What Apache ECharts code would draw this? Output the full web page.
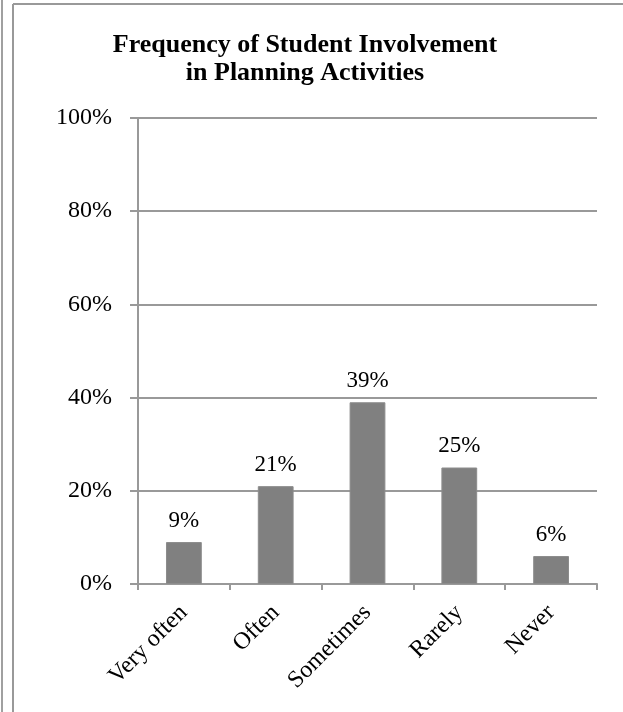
<!DOCTYPE html>
<html>
<head>
<meta charset="utf-8">
<script src="https://cdn.jsdelivr.net/npm/echarts@6/dist/echarts.min.js"></script>
<style>
  html, body { margin: 0; padding: 0; background: #fff; }
  #chart { width: 623px; height: 712px; }
</style>
</head>
<body>
<div id="chart"></div>
<script>
// Survey responses: share of students per frequency level
const categories = ['Very often', 'Often', 'Sometimes', 'Rarely', 'Never'];
const shares = [9, 21, 39, 25, 6];
const yTicks = { min: 0, max: 100, step: 20 };

const serif = '"Liberation Serif", "Times New Roman", serif';
const chart = echarts.init(document.getElementById('chart'), null, { renderer: 'canvas' });

chart.setOption({
  backgroundColor: '#fff',
  animation: false,
  title: {
    text: 'Frequency of Student Involvement\nin Planning Activities',
    left: 300,
    textAlign: 'center',
    top: 26,
    textStyle: {
      fontFamily: serif,
      fontSize: 26,
      fontWeight: 'bold',
      color: '#000',
      lineHeight: 28
    }
  },
  graphic: [
    // frame around the chart area
    { type: 'line', shape: { x1: 2, y1: 0, x2: 2, y2: 712 }, style: { stroke: '#a0a0a0', lineWidth: 2 } },
    { type: 'line', shape: { x1: 13, y1: 4, x2: 623, y2: 4 }, style: { stroke: '#999', lineWidth: 2 } },
    { type: 'line', shape: { x1: 13, y1: 4, x2: 13, y2: 712 }, style: { stroke: '#999', lineWidth: 2 } }
  ],
  grid: { left: 138, right: 26, top: 118, bottom: 128, containLabel: false },
  xAxis: {
    type: 'category',
    data: categories,
    axisLine: { lineStyle: { color: '#999', width: 2 } },
    axisTick: { show: true, length: 6, alignWithLabel: false, lineStyle: { color: '#999', width: 2 } },
    axisLabel: {
      rotate: 45,
      interval: 0,
      margin: 25,
      fontFamily: serif,
      fontSize: 24,
      color: '#000'
    }
  },
  yAxis: {
    type: 'value',
    min: yTicks.min,
    max: yTicks.max,
    interval: yTicks.step,
    axisLine: { show: true, lineStyle: { color: '#999', width: 2 } },
    axisTick: { show: true, length: 8, inside: false, lineStyle: { color: '#999', width: 2 } },
    axisLabel: {
      formatter: '{value}%',
      fontFamily: serif,
      fontSize: 24,
      color: '#000',
      margin: 26
    },
    splitLine: { show: true, lineStyle: { color: '#999', width: 2 } }
  },
  series: [{
    type: 'bar',
    data: shares,
    barWidth: '39%',
    itemStyle: { color: '#808080', borderColor: '#8c8c8c', borderWidth: 1 },
    label: {
      show: true,
      position: 'top',
      distance: 10,
      formatter: '{c}%',
      fontFamily: serif,
      fontSize: 23,
      color: '#000'
    }
  }]
});
</script>
</body>
</html>
